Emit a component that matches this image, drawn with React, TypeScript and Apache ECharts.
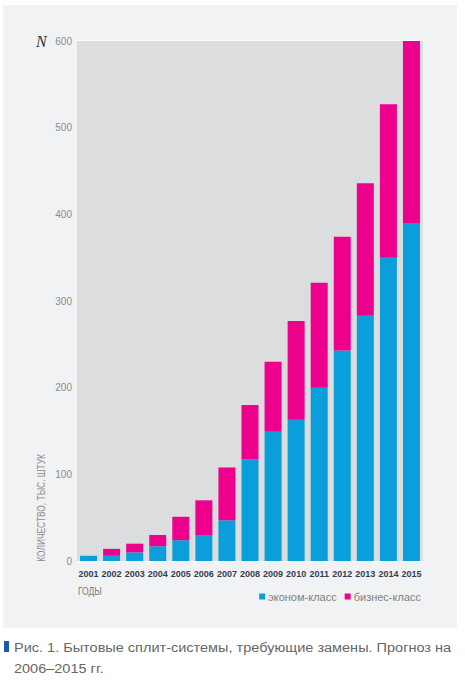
import React, { useEffect, useRef } from "react";
import * as echarts from "echarts";

const years = ["2001","2002","2003","2004","2005","2006","2007","2008","2009","2010","2011","2012","2013","2014","2015"];
const economy = [6, 6, 10, 17, 24, 30, 47, 117, 149, 163, 200, 243, 283, 350, 390];
const business = [0, 8, 10, 13, 27, 40, 61, 63, 81, 114, 121, 131, 153, 177, 210];
const seriesNames = ["эконом-класс", "бизнес-класс"];
const yTicks = [0, 100, 200, 300, 400, 500, 600];
const captionLines = ["Рис. 1. Бытовые сплит-системы, требующие замены. Прогноз на", "2006–2015 гг."];

const BLUE = "#0a9fda";
const PINK = "#ec008c";
const SANS = "'Liberation Sans', Arial, sans-serif";

export default function App() {
  const ref = useRef<HTMLDivElement>(null);
  useEffect(() => {
    if (!ref.current) return;
    const chart = echarts.init(ref.current, null, { renderer: "svg" });
    chart.setOption({
      animation: false,
      backgroundColor: "#ffffff",
      grid: {
        left: 77, top: 41, width: 346, height: 520,
        show: true, backgroundColor: "#dcdddf", borderWidth: 0, z: 2,
      },
      legend: {
        data: seriesNames,
        right: 39, top: 586,
        icon: "rect", itemWidth: 6, itemHeight: 6, itemGap: 8,
        textStyle: { color: "#808080", fontSize: 11, fontFamily: SANS, padding: [0, 0, 0, -2] },
      },
      xAxis: {
        type: "category",
        data: years,
        axisLine: { show: false },
        axisTick: { show: false },
        axisLabel: { color: "#34404f", fontSize: 9, fontFamily: SANS, fontWeight: "bold", margin: 8, interval: 0 },
      },
      yAxis: {
        type: "value",
        min: 0, max: 600, interval: 50,
        axisLine: { show: false },
        axisTick: { show: false },
        splitLine: { lineStyle: { color: "#ffffff", width: 1.5 } },
        axisLabel: {
          color: "#8c8c8c", fontSize: 10, fontFamily: SANS, margin: 5,
          formatter: (v: number) => (yTicks.includes(v) ? String(v) : ""),
        },
      },
      series: [
        { name: seriesNames[0], type: "bar", stack: "t", data: economy, barWidth: 17, itemStyle: { color: BLUE }, z: 3 },
        { name: seriesNames[1], type: "bar", stack: "t", data: business, barWidth: 17, itemStyle: { color: PINK }, z: 3 },
      ],
      color: [BLUE, PINK],
      graphic: [
        { type: "rect", z: -10, silent: true, shape: { x: 3, y: 5, width: 454, height: 623 }, style: { fill: "#f1f2f4" } },
        { type: "text", z: 10, x: 36, y: 41, style: { text: "N", font: "italic 16px 'Liberation Serif', 'DejaVu Serif', serif", fill: "#333333", verticalAlign: "middle" } },
        { type: "text", z: 10, x: 41, y: 508, rotation: Math.PI / 2, scaleX: 0.8, style: { text: "КОЛИЧЕСТВО, ТЫС. ШТУК", font: "10.5px " + SANS, fill: "#8a8a8a", align: "center", verticalAlign: "middle" } },
        { type: "text", z: 10, x: 78, y: 592, scaleX: 0.85, style: { text: "ГОДЫ", font: "10px " + SANS, fill: "#7a7a7a", verticalAlign: "middle" } },
        { type: "rect", z: 10, shape: { x: 4, y: 641, width: 5, height: 11 }, style: { fill: "#1a5aa8" } },
        { type: "text", z: 10, x: 14, y: 647, scaleX: 1.075, style: { text: captionLines[0], font: "13.5px " + SANS, fill: "#666666", verticalAlign: "middle" } },
        { type: "text", z: 10, x: 14, y: 668, scaleX: 1.075, style: { text: captionLines[1], font: "13.5px " + SANS, fill: "#666666", verticalAlign: "middle" } },
      ],
    });
    return () => chart.dispose();
  }, []);
  return <div ref={ref} style={{ position: "absolute", left: 0, top: 0, width: 465, height: 680 }} />;
}
